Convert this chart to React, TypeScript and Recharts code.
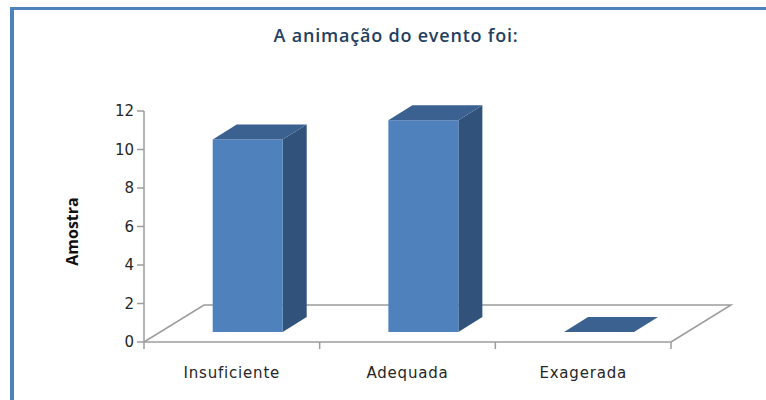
import { BarChart, Bar, XAxis, YAxis, ReferenceLine } from 'recharts'

const categories = ['Insuficiente', 'Adequada', 'Exagerada']
const amostra = [10, 11, 0]
const yTicks = [0, 2, 4, 6, 8, 10, 12]

const data = categories.map((name, i) => ({ name, amostra: amostra[i] }))

// fake 3D: floor depth, where the bars stand on it, and the depth of each box
const FLOOR_DX = 60
const FLOOR_DY = 37
const BAR_SHIFT_X = 16
const BAR_SHIFT_Y = 10
const DEPTH_X = 24
const DEPTH_Y = 15

const AXIS_GREY = '#9c9c9c'

function Box3D(props: any) {
  const { x, y, width, height } = props
  if (x == null || y == null) return null
  const fx = x + BAR_SHIFT_X
  const fy = y - BAR_SHIFT_Y
  const r = fx + width
  const b = fy + height
  const top = `${fx},${fy} ${fx + DEPTH_X},${fy - DEPTH_Y} ${r + DEPTH_X},${fy - DEPTH_Y} ${r},${fy}`
  const side = `${r},${fy} ${r + DEPTH_X},${fy - DEPTH_Y} ${r + DEPTH_X},${b - DEPTH_Y} ${r},${b}`
  return (
    <g>
      {height > 0 && <polygon points={side} fill="#30527b" />}
      {height > 0 && <rect x={fx} y={fy} width={width} height={height} fill="#4f81bd" />}
      <polygon points={top} fill="#3b6190" />
    </g>
  )
}

function Floor(props: any) {
  const { x1, y1, x2 } = props
  if (x1 == null || y1 == null) return null
  const pts = `${x1},${y1} ${x1 + FLOOR_DX},${y1 - FLOOR_DY} ${x2 + FLOOR_DX},${y1 - FLOOR_DY} ${x2},${y1}`
  return <polyline points={pts} fill="none" stroke={AXIS_GREY} strokeWidth={1.5} />
}

function CategoryTick(props: any) {
  const { x, y, payload, index } = props
  const half = payload?.offset ?? 88
  return (
    <g>
      <line x1={x - half} y1={y} x2={x - half} y2={y + 7} stroke={AXIS_GREY} strokeWidth={1.5} />
      {index === categories.length - 1 && (
        <line x1={x + half} y1={y} x2={x + half} y2={y + 7} stroke={AXIS_GREY} strokeWidth={1.5} />
      )}
      <text
        x={x}
        y={y + 36}
        textAnchor="middle"
        fontFamily="DejaVu Sans"
        fontSize={15}
        letterSpacing={0.8}
        fill="#262626"
      >
        {payload.value}
      </text>
    </g>
  )
}

function AxisTitle(props: any) {
  const vb = props.viewBox || {}
  const cy = (vb.y ?? 111) + (vb.height ?? 231) / 2 + 5
  return (
    <text
      x={78}
      y={cy}
      transform={`rotate(-90 78 ${cy})`}
      textAnchor="middle"
      fontFamily="Open Sans"
      fontWeight={700}
      fontSize={16}
      fill="#111"
    >
      Amostra
    </text>
  )
}

export default function App() {
  return (
    <div style={{ position: 'absolute', left: 0, top: 0, width: 766, height: 400, background: '#fff' }}>
      <div
        style={{
          position: 'absolute',
          left: 10,
          top: 7,
          right: 0,
          bottom: 0,
          borderTop: '3px solid #4f81bd',
          borderLeft: '4px solid #4f81bd',
        }}
      />
      <div
        style={{
          position: 'absolute',
          left: 269,
          width: 254,
          top: 23,
          textAlign: 'center',
          whiteSpace: 'nowrap',
          fontFamily: 'Open Sans',
          fontWeight: 600,
          fontSize: 18,
          letterSpacing: 0.8,
          color: '#243f60',
        }}
      >
        A animação do evento foi:
      </div>
      <div style={{ position: 'absolute', left: 0, top: 0 }}>
        <BarChart
          width={766}
          height={400}
          data={data}
          margin={{ top: 111, right: 95, bottom: 0, left: 0 }}
          barCategoryGap="30%"
        >
          <XAxis
            dataKey="name"
            height={58}
            axisLine={{ stroke: AXIS_GREY, strokeWidth: 1.5 }}
            tickLine={false}
            tickSize={0}
            tickMargin={0}
            tick={<CategoryTick />}
            interval={0}
          />
          <YAxis
            width={144}
            domain={[0, 12]}
            ticks={yTicks}
            interval={0}
            axisLine={{ stroke: AXIS_GREY, strokeWidth: 1.5 }}
            tickLine={{ stroke: AXIS_GREY, strokeWidth: 1.5 }}
            tickSize={7}
            tickMargin={3}
            tick={{ fontFamily: 'DejaVu Sans', fontSize: 15, fill: '#262626' }}
            label={<AxisTitle />}
          />
          <ReferenceLine y={0} shape={<Floor />} zIndex={-50} />
          <Bar dataKey="amostra" shape={<Box3D />} isAnimationActive={false} />
        </BarChart>
      </div>
    </div>
  )
}
